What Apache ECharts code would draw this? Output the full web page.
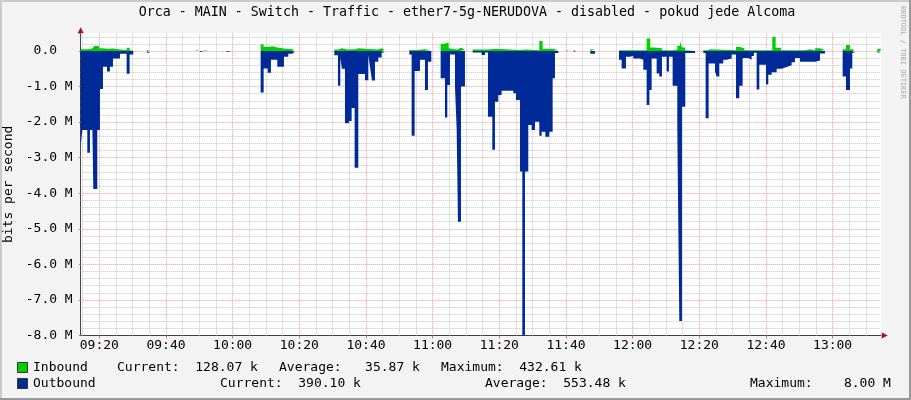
<!DOCTYPE html>
<html>
<head>
<meta charset="utf-8">
<script src="https://cdn.jsdelivr.net/npm/echarts@6/dist/echarts.min.js"></script>
<style>
html,body{margin:0;padding:0;background:#f3f3f3;}
#c{width:911px;height:400px;}
</style>
</head>
<body>
<div id="c"></div>
<script>
// ---- data (time in minutes since midnight, value in Mbit/s) ----
const titleText = 'Orca - MAIN - Switch - Traffic - ether7-5g-NERUDOVA - disabled - pokud jede Alcoma';
const xStart = 554.42;   // 09:14:25
const xEnd = 794.42;     // 13:14:25
const xTickValues = [560, 580, 600, 620, 640, 660, 680, 700, 720, 740, 760, 780];
const xTickLabels = ['09:20', '09:40', '10:00', '10:20', '10:40', '11:00', '11:20', '11:40', '12:00', '12:20', '12:40', '13:00'];
const yTickValues = [-8, -7, -6, -5, -4, -3, -2, -1, 0];
const yTickLabels = ['-8.0 M', '-7.0 M', '-6.0 M', '-5.0 M', '-4.0 M', '-3.0 M', '-2.0 M', '-1.0 M', '0.0  '];

// a value of 0 closes a run of samples (no data until the next point)
const inbound = [
  [554.4,0.05],[556.4,0.07],[557.9,0.1],[558.5,0.14],[559.9,0.08],[561.1,0.06],[562.6,0.07],[564.1,0.04],[566.2,0.03],[568.2,0.09],[569.1,0.03],[570.2,0],
  [574.3,0.03],[575.2,0],[589.0,0.02],[590.0,0],[591.5,0.02],[592.7,0],
  [608.4,0.19],[609.3,0.11],[610.5,0.13],[612.0,0.1],[613.4,0.07],[615.4,0.05],[617.8,0.03],[618.7,0],
  [630.5,0.04],[631.7,0.08],[632.8,0.04],[634.5,0.05],[636.7,0.08],[637.7,0.04],[643.4,0.08],[644.7,0.03],[645.7,0],
  [653.0,0.03],[655.5,0.05],[657.5,0.03],[659.6,0],
  [662.4,0.2],[663.5,0.24],[664.8,0.08],[665.2,0.04],[667.2,0.09],[668.5,0.04],[669.7,0],
  [672.0,0.04],[676.6,0.06],[679.0,0.03],[686.0,0.04],[688.0,0.02],[692.0,0.28],[693.0,0.06],[696.0,0.02],[697.7,0],
  [700.2,0.02],[701.0,0],[702.3,0.03],[703.0,0],[707.3,0.05],[708.7,0],
  [715.9,0.02],[724.2,0.35],[725.3,0.1],[726.5,0.08],[728.8,0.02],[732.0,0.04],[733.4,0.15],[734.2,0.28],[734.8,0.1],[735.8,0.02],[738.7,0],
  [741.2,0.02],[742.4,0.05],[743.2,0.02],[751.0,0.12],[752.0,0.08],[753.5,0.02],[761.9,0.4],[762.9,0.09],[764.5,0.02],[771.7,0.05],[773.2,0.02],[774.7,0.08],[776.2,0.03],[777.7,0],
  [783.0,0.05],[784.0,0.17],[785.2,0.05],[785.9,0.02],[786.7,0],
  [793.4,0.06],[794.4,0]
];

const outbound = [
  [554.4,-2.69],[554.9,-2.22],[556.4,-2.86],[557.2,-2.22],[557.9,-2.06],[558.2,-3.88],[559.4,-2.22],[560.2,-1.07],[561.1,-0.44],[562.3,-0.58],[563.2,-0.44],[564.1,-0.21],[566.2,-0.08],[568.2,-0.64],[569.1,-0.10],[570.2,0],
  [574.3,-0.05],[575.2,0],[590.2,-0.03],[591.5,0],[598.2,-0.03],[599.7,0],
  [608.4,-1.17],[609.3,-0.49],[610.5,-0.61],[611.5,-0.25],[613.4,-0.44],[615.4,-0.16],[616.7,-0.08],[617.8,-0.03],[618.7,0],
  [630.5,-0.12],[631.6,-0.98],[632.3,-0.2],[632.8,-0.5],[633.7,-2.03],[634.9,-1.97],[635.7,-1.6],[636.6,-3.28],[637.7,-0.65],[639.7,-0.82],[640.7,-0.12],[641.2,-0.44],[641.8,-0.83],[642.7,-0.3],[643.7,-0.18],[644.7,-0.04],[645.7,0],
  [653.0,-0.1],[653.7,-2.38],[654.6,-0.56],[656.2,-0.25],[657.7,-1.1],[658.6,-0.3],[659.6,0],
  [662.4,-0.77],[663.7,-1.87],[664.4,-0.96],[665.2,-0.1],[666.7,-1.0],[667.2,-2.17],[667.6,-4.8],[668.5,-1.0],[669.7,0],
  [672.0,-0.04],[674.7,-0.11],[675.7,-0.04],[676.6,-1.85],[677.9,-2.78],[678.7,-1.43],[679.7,-1.24],[680.7,-1.12],[684.2,-1.19],[685.0,-1.38],[686.2,-3.39],[686.9,-8.0],[687.7,-3.39],[688.7,-2.08],[689.7,-2.22],[690.7,-1.99],[692.0,-2.38],[692.7,-2.27],[693.8,-2.41],[695.0,-2.27],[696.0,-0.77],[696.7,-0.06],[697.7,0],
  [702.3,-0.03],[703.0,0],[707.3,-0.08],[708.7,0],
  [715.9,-0.25],[716.7,-0.49],[718.0,-0.16],[719.2,-0.14],[720.2,-0.21],[722.2,-0.25],[723.2,-0.53],[724.2,-1.52],[725.0,-1.1],[725.7,-0.21],[727.2,-0.63],[728.0,-0.72],[728.8,-0.16],[730.2,-0.58],[730.9,-0.16],[732.0,-0.98],[733.4,-2.17],[734.0,-7.59],[734.8,-1.57],[735.8,-0.06],[738.7,0],
  [741.2,-0.06],[741.9,-1.89],[742.8,-0.35],[744.7,-0.58],[745.2,-0.72],[746.0,-0.35],[747.2,-0.25],[748.2,-0.21],[749.7,-0.1],[751.0,-1.33],[752.0,-0.98],[753.0,-0.2],[754.7,-0.25],[755.7,-0.14],[756.4,-0.05],[757.2,-1.08],[758.0,-0.39],[760.0,-0.94],[760.7,-0.67],[761.7,-0.6],[763.2,-0.5],[764.7,-0.45],[766.2,-0.4],[767.7,-0.32],[768.7,-0.2],[770.2,-0.3],[774.7,-0.27],[776.2,-0.07],[777.7,0],
  [783.0,-0.72],[784.0,-1.1],[785.2,-0.49],[785.9,-0.05],[786.7,0],
  [793.4,-0.04],[794.4,0]
];

const legendRows = [
  { name: 'Inbound',  color: '#00CF00', parts: [['Current:  128.07 k', 117], ['Average:   35.87 k', 279], ['Maximum:  432.61 k', 441]] },
  { name: 'Outbound', color: '#002A97', parts: [['Current:  390.10 k', 220], ['Average:  553.48 k', 485], ['Maximum:    8.00 M', 750]] }
];

// break the line after every closing 0 so gaps stay empty
const withGaps = arr => arr.reduce((out, p) => { out.push(p); if (p[1] === 0) out.push([p[0], null]); return out; }, []);

// ---- grid helper positions (5-minute and 0.2 M minor grid) ----
const minorX = [];
for (let v = 555; v <= 790; v += 5) { if (v % 20 !== 0) minorX.push(v); }
const minorY = [];
for (let i = -39; i <= 2; i++) { if (i % 5 !== 0) minorY.push(+(i * 0.2).toFixed(1)); }

const MONO = '"DejaVu Sans Mono", "Liberation Mono", monospace';
const GL = 80.7, GR = 880.7, GT = 33.2, GB = 335.5;

const chart = echarts.init(document.getElementById('c'), null, { renderer: 'canvas' });

const graphics = [
  { type: 'rect', shape: { x: 0, y: 0, width: 911, height: 2 }, style: { fill: '#cbcbcb' }, silent: true },
  { type: 'rect', shape: { x: 0, y: 0, width: 2, height: 400 }, style: { fill: '#cbcbcb' }, silent: true },
  { type: 'rect', shape: { x: 909, y: 0, width: 2, height: 400 }, style: { fill: '#999999' }, silent: true },
  { type: 'rect', shape: { x: 0, y: 398, width: 911, height: 2 }, style: { fill: '#999999' }, silent: true },
  { type: 'text', x: 467, y: 13, style: { text: titleText, font: '13.3px ' + MONO, fill: '#000', align: 'center', verticalAlign: 'middle' } },
  { type: 'text', x: 903, y: 6, rotation: -Math.PI / 2, style: { text: 'RRDTOOL / TOBI OETIKER', font: '7px ' + MONO, fill: '#aaaaaa', align: 'left', verticalAlign: 'middle' } },
  { type: 'polygon', shape: { points: [[GL - 3, GT], [GL + 3, GT], [GL, GT - 6]] }, style: { fill: '#9a1515' } },
  { type: 'polygon', shape: { points: [[GR + 1, GB - 3], [GR + 1, GB + 3], [GR + 7, GB]] }, style: { fill: '#9a1515' } }
];
legendRows.forEach((row, i) => {
  const yc = 368 + i * 16;
  graphics.push({ type: 'rect', shape: { x: 17.5, y: yc - 5.5, width: 10, height: 10 }, style: { fill: row.color, stroke: '#333', lineWidth: 1 } });
  graphics.push({ type: 'text', x: 33, y: yc, style: { text: row.name, font: '13px ' + MONO, fill: '#000', align: 'left', verticalAlign: 'middle' } });
  row.parts.forEach(p => {
    graphics.push({ type: 'text', x: p[1], y: yc, style: { text: p[0], font: '13px ' + MONO, fill: '#000', align: 'left', verticalAlign: 'middle' } });
  });
});

const minorLineStyle = { color: '#c4c4c4', width: 1, type: [1, 1] };

const option = {
  animation: false,
  backgroundColor: '#f3f3f3',
  grid: { left: GL, right: 911 - GR, top: GT, bottom: 400 - GB, show: true, backgroundColor: '#ffffff', borderWidth: 0,
          containLabel: false, outerBoundsMode: 'none' },
  xAxis: [
    {
      type: 'value', min: xStart, max: xEnd, position: 'bottom',
      axisLine: { show: true, onZero: false, lineStyle: { color: '#404040', width: 1 } },
      axisTick: { show: true, customValues: xTickValues, length: 3, lineStyle: { color: '#e07070' } },
      axisLabel: { customValues: xTickValues, margin: 4, color: '#000', fontFamily: MONO, fontSize: 13,
        formatter: v => { const i = xTickValues.indexOf(Math.round(v)); return i >= 0 ? xTickLabels[i] : ''; } },
      splitLine: { show: true, lineStyle: { color: '#eb9a9a', width: 1, type: [1, 1] } }
    }
  ],
  yAxis: [
    {
      type: 'value', min: -8, max: 0.5, interval: 1,
      name: 'bits per second', nameLocation: 'middle', nameGap: 56,
      nameTextStyle: { fontFamily: MONO, fontSize: 13, color: '#000' },
      axisLine: { show: true, onZero: false, lineStyle: { color: '#404040', width: 1 } },
      axisTick: { show: true, length: 2, lineStyle: { color: '#e07070' } },
      axisLabel: { margin: 8, color: '#000', fontFamily: MONO, fontSize: 13,
        formatter: v => { const i = yTickValues.indexOf(Math.round(v * 10) / 10); return i >= 0 ? yTickLabels[i] : ''; } },
      splitLine: { show: true, showMaxLine: false, lineStyle: { color: '#eb9a9a', width: 1, type: [1, 1] } }
    }
  ],
  series: [
    { name: 'grid', type: 'line', data: [], z: 1, silent: true,
      markLine: { silent: true, z: 1, symbol: ['none', 'none'], label: { show: false }, animation: false,
        lineStyle: minorLineStyle, emphasis: { disabled: true },
        data: minorX.map(v => ({ xAxis: v })).concat(minorY.map(v => ({ yAxis: v }))) } },
    { name: 'Outbound', type: 'line', step: 'end', data: withGaps(outbound), z: 3, connectNulls: false,
      showSymbol: false, symbol: 'none', lineStyle: { width: 0, opacity: 0 }, itemStyle: { color: '#002A97' },
      areaStyle: { color: '#002A97', opacity: 1 } },
    { name: 'Inbound', type: 'line', step: 'end', data: withGaps(inbound), z: 3, connectNulls: false,
      showSymbol: false, symbol: 'none', lineStyle: { width: 0, opacity: 0 }, itemStyle: { color: '#00CF00' },
      areaStyle: { color: '#00CF00', opacity: 1 } }
  ],
  graphic: graphics
};
chart.setOption(option);
</script>
</body>
</html>
